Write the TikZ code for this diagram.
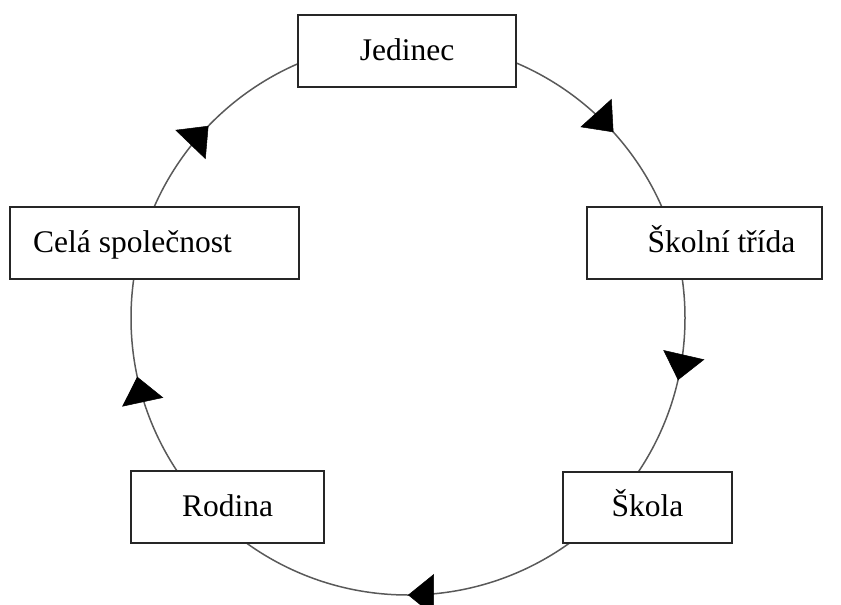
\documentclass[tikz,border=0pt]{standalone}
\usepackage{fontspec}
\setmainfont{Liberation Serif}
\usetikzlibrary{arrows.meta,decorations.markings}
\begin{document}
\begin{tikzpicture}[x=1pt,y=-1pt,
  stage/.style={draw=black!85, line width=1.6pt, fill=white,
    minimum height=72pt, inner sep=0pt, text height=22pt, text depth=4pt,
    font=\fontsize{31.5}{38}\selectfont},
  cycle/.style={draw=black!65, line width=1.5pt},
  flowtip/.style={black, line width=0.5pt}
]
\useasboundingbox (0,0) rectangle (841,605);

% the cycle itself, with its direction marks (clockwise on the page)
\coordinate (c) at (408,318);
\draw[cycle, postaction={decorate}, decoration={markings,
    mark=at position 0.036 with {\arrow[flowtip]{Triangle[length=26pt,width=42pt]}},
    mark=at position 0.250 with {\arrow[flowtip]{Triangle[length=26pt,width=42pt]}},
    mark=at position 0.466 with {\arrow[flowtip]{Triangle[length=26pt,width=42pt]}},
    mark=at position 0.622 with {\arrow[flowtip]{Triangle[length=26pt,width=42pt]}},
    mark=at position 0.883 with {\arrow[flowtip]{Triangle[length=26pt,width=42pt]}}}]
  (c) circle[radius=277];

% stages of the cycle
\node[stage, minimum width=218pt] (jed) at (407,51) {Jedinec};
\node[stage, minimum width=235pt] (tri) at (704.5,243) {\hspace*{34pt}Školní třída};
\node[stage, minimum width=169pt, minimum height=71pt] (sko) at (647.5,507.5) {Škola};
\node[stage, minimum width=193pt] (rod) at (227.5,507) {Rodina};
\node[stage, minimum width=289pt] (spo) at (154.5,243) {Celá společnost\hspace*{44pt}};
\end{tikzpicture}
\end{document}
